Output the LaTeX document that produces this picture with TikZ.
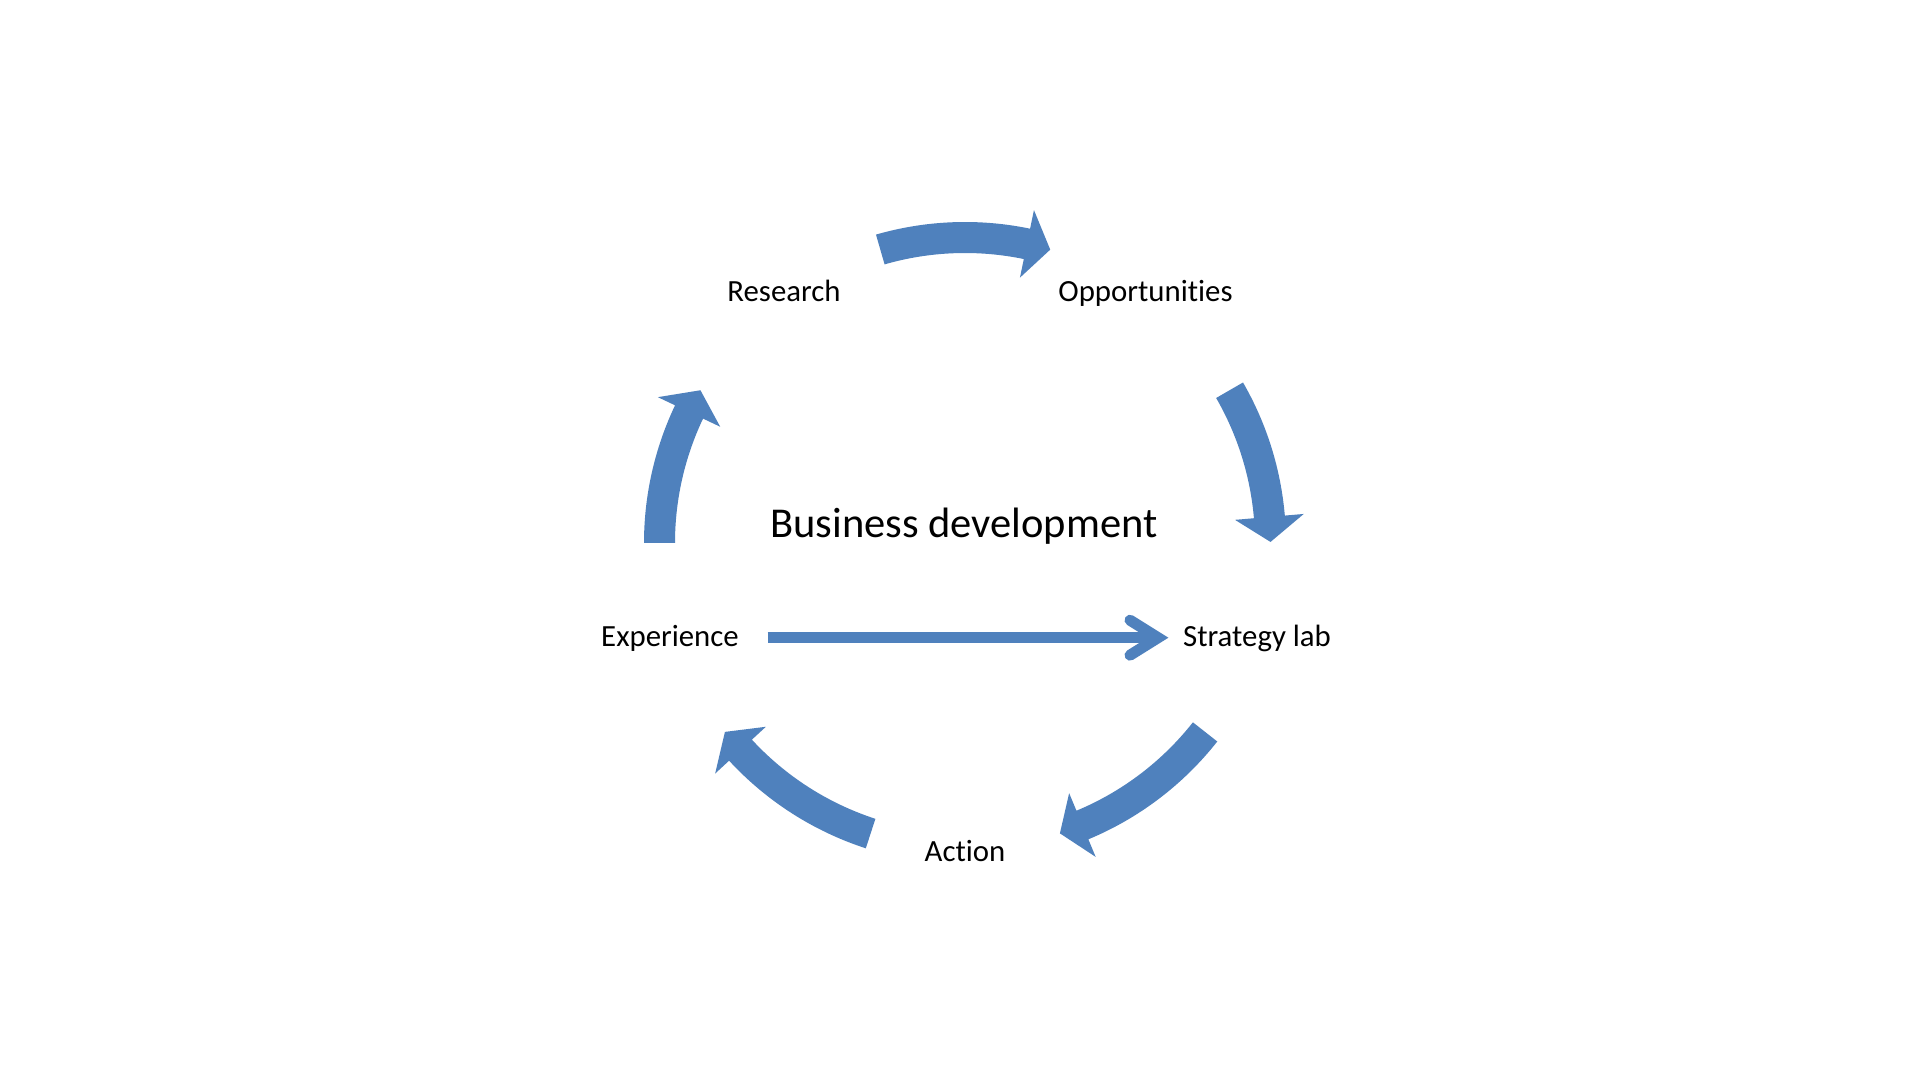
\documentclass[tikz,border=0pt]{standalone}
\usepackage{fontspec}
\setmainfont{Carlito}[Ligatures={NoCommon}]
\usetikzlibrary{calc}
\definecolor{arrowblue}{HTML}{4F81BD}
\newcommand\cyclearrow[3]{%
  \fill[arrowfill] (#1:321) arc[start angle=#1, end angle=#2, radius=321]
    -- (#2:340) -- (#3:305.5) -- (#2:271) -- (#2:290)
    arc[start angle=#2, end angle=#1, radius=290] -- cycle;}
\begin{document}
\begin{tikzpicture}[x=1pt,y=1pt,
  arrowfill/.style={fill=arrowblue},
  label/.style={inner sep=0pt, anchor=base, font=\fontsize{30.8}{37}\selectfont, text=black},
  title/.style={inner sep=0pt, anchor=base, font=\fontsize{42.5}{51}\selectfont, text=black},
  straightarrow/.style={draw=arrowblue, line width=11pt}]
\useasboundingbox (0,0) rectangle (1920,1080);
\fill[white] (0,0) rectangle (1920,1080);
% labels
\node[label] (research) at (784,778) {Research};
\node[label] (opport) at (1145.5,778) {Opportunities};
\node[title] (bizdev) at (964,542.5) {Business development};
\node[label] (exper) at (670,433) {Experience};
\node[label] (strat) at (1257,433) {Strategy lab};
\node[label] (action) at (965,219) {Action};
% cycle arrows
\begin{scope}[shift={(965,537)}]
  \cyclearrow{106.1}{78.3}{73.8}
  \cyclearrow{30.0}{4.9}{0.2}
  \cyclearrow{-38.2}{-67.4}{-71.9}
  \cyclearrow{-108}{-137.3}{-141.8}
  \cyclearrow{180}{154.6}{150}
\end{scope}
% straight arrow Experience -> Strategy lab
\coordinate (hs) at (767.5,442.3);
\coordinate (he) at (1158,442.3);
\draw[straightarrow, line cap=butt] (hs) -- ($(he)+(-6,0)$);
\draw[straightarrow, line cap=round, line join=miter]
  ($(he)+(-28,17.5)$) -- (he) -- ($(he)+(-28,-17.5)$);
\end{tikzpicture}
\end{document}
